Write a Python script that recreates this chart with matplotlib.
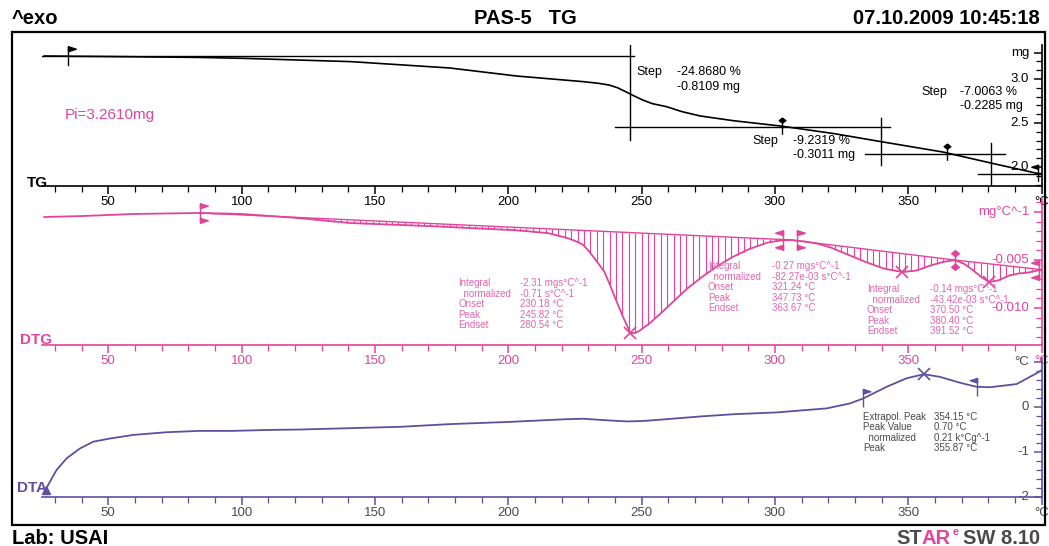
import numpy as np
import matplotlib.pyplot as plt
from matplotlib.path import Path
from matplotlib.patches import Rectangle

plt.rcParams['font.family'] = ['Liberation Sans', 'DejaVu Sans']

PINK = '#e2449c'
PINK_TXT = '#e266ad'
PURPLE = '#5d519f'
GREY = '#4a4a4a'

# ---- TG: mass vs temperature ----
tg_temp = [26, 50, 84, 100, 141, 178, 203, 228, 234, 238, 241, 244, 247, 250.5,
           254, 259.4, 265, 271.9, 284.4, 302, 322, 339.4, 363, 381.7, 398, 400]
tg_mass = [3.261, 3.255, 3.245, 3.235, 3.197, 3.125, 3.034, 2.97, 2.95, 2.93,
           2.90, 2.856, 2.81, 2.76, 2.72, 2.685, 2.63, 2.58, 2.526, 2.466, 2.38,
           2.29, 2.17, 2.04, 1.93, 1.922]
tg_initial = 3.2610
tg_step_pct = [-24.8680, -9.2319, -7.0063]
tg_step_mg = [-0.8109, -0.3011, -0.2285]
tg_step_temp = [245.8, 339.6, 381.2]

# ---- DTG: derivative of mass ----
dtg_temp = [26, 40, 60, 84.4, 100, 120, 141, 170, 203, 215, 222, 225, 228, 230,
            232, 236, 238, 240, 243, 245.8, 247.5, 249, 253, 257, 262, 267, 272,
            278, 284, 290, 297, 301, 305.6, 312, 316, 321, 327, 334, 341, 347.7,
            353, 358, 363, 367.5, 371, 374, 377.5, 380.4, 384, 388, 391.5, 395,
            400]
dtg_val = [-0.00052, -0.00042, -0.0002, -0.0001, -0.0002, -0.0006, -0.00115,
           -0.00146, -0.0019, -0.0022, -0.0027, -0.0030, -0.0034, -0.0040,
           -0.0047, -0.0062, -0.0075, -0.0089, -0.0109, -0.0126, -0.0126,
           -0.0124, -0.0116, -0.0106, -0.0093, -0.0080, -0.0069, -0.0057,
           -0.0047, -0.0039, -0.0032, -0.0030, -0.0029, -0.0031, -0.0033,
           -0.0037, -0.0044, -0.0052, -0.0059, -0.00625, -0.0061, -0.0056,
           -0.0052, -0.0050, -0.0054, -0.0060, -0.0068, -0.0073, -0.0071,
           -0.0066, -0.0064, -0.0063, -0.0060]
dtg_limits = [84.4, 305.6, 367.5, 400.0]
dtg_peaks = [245.82, 347.73, 380.40]
dtg_integral = ['-2.31 mgs°C^-1', '-0.27 mgs°C^-1', '-0.14 mgs°C^-1']
dtg_normalized = ['-0.71 s°C^-1', '-82.27e-03 s°C^-1', '-43.42e-03 s°C^-1']
dtg_onset = [230.18, 321.24, 370.50]
dtg_endset = [280.54, 363.67, 391.52]

# ---- DTA ----
dta_temp = [26.5, 27.1, 30.6, 34.4, 39.4, 44.4, 50.6, 59.4, 71.9, 84.4, 96.9,
            109.4, 121.9, 140.6, 159.4, 178.1, 200.6, 221.9, 228.1, 235.6, 244.4,
            250.6, 259.4, 271.9, 284.4, 300.6, 319.4, 328.1, 333.1, 341.9, 349.4,
            355.87, 361.9, 369.4, 375.6, 380.6, 390.6, 398.1, 400]
dta_val = [-1.85, -1.77, -1.40, -1.14, -0.92, -0.77, -0.70, -0.62, -0.56, -0.53,
           -0.53, -0.51, -0.50, -0.47, -0.44, -0.38, -0.33, -0.27, -0.26, -0.29,
           -0.32, -0.31, -0.27, -0.21, -0.16, -0.12, -0.03, 0.08, 0.19, 0.45,
           0.64, 0.73, 0.67, 0.54, 0.45, 0.44, 0.51, 0.75, 0.82]
dta_flags = [333.1, 375.6]
dta_labels = ['Extrapol. Peak', 'Peak Value', '  normalized', 'Peak']
dta_values = ['354.15 °C', '0.70 °C', '0.21 k°Cg^-1', '355.87 °C']

x_ticks = [50, 100, 150, 200, 250, 300, 350, 400]
x_labels = ['50', '100', '150', '200', '250', '300', '350', '°C']


def flag_marker(top, bottom):
    """staff with small pennants: 'r', 'l' or 'd' (diamond) at each end"""
    verts = [(0, -1), (0, 1)]
    codes = [Path.MOVETO, Path.LINETO]
    for kind, s in ((top, 1), (bottom, -1)):
        if kind is None:
            continue
        if kind == 'd':
            pts = [(0, s * 1.0), (0.4, s * 0.7), (0, s * 0.4), (-0.4, s * 0.7)]
        else:
            d = 0.8 if kind == 'r' else -0.8
            pts = [(0, s * 1.0), (d, s * 0.75), (0, s * 0.5)]
        verts += pts + [pts[0]]
        codes += [Path.MOVETO] + [Path.LINETO] * (len(pts) - 1) + [Path.CLOSEPOLY]
    return Path(verts, codes)


def style_axes(ax, color, label_color):
    ax.set_facecolor('none')
    ax.set_xlim(25, 400)
    for s in ('left', 'top'):
        ax.spines[s].set_visible(False)
    for s in ('right', 'bottom'):
        ax.spines[s].set_color(color)
        ax.spines[s].set_linewidth(1.2)
    ax.set_xticks(x_ticks, labels=x_labels)
    ax.set_xticks(np.arange(30, 400, 10), minor=True)
    ax.tick_params(axis='x', which='both', direction='out', color=color,
                   labelcolor=label_color, labelsize=9.5, pad=1)
    ax.tick_params(axis='x', which='major', length=6, width=1.1)
    ax.tick_params(axis='x', which='minor', length=4, width=0.9)
    ax.tick_params(axis='y', which='both', direction='in', left=False,
                   right=True, labelleft=False, labelright=True, color=color,
                   labelcolor=label_color, labelsize=9.5, pad=-9)
    ax.tick_params(axis='y', which='major', length=6, width=1.1)
    ax.tick_params(axis='y', which='minor', length=4, width=0.9)
    plt.setp(ax.get_yticklabels(), ha='right', va='center')


fig = plt.figure(figsize=(10.49, 5.46), dpi=100)
W, H = 1049.0, 546.0

ax_tg = fig.add_axes([41.6 / W, 1 - 186 / H, 1000 / W, 141 / H])
ax_dtg = fig.add_axes([41.6 / W, 1 - 345 / H, 1000 / W, 147 / H])
ax_dta = fig.add_axes([41.6 / W, 1 - 497 / H, 1000 / W, 139 / H])

# ---- TG panel ----
ax_tg.set_ylim(1.784, 3.386)
ax_tg.set_yticks([2.0, 2.5, 3.0, 3.3], labels=['2.0', '2.5', '3.0', 'mg'])
ax_tg.set_yticks(np.arange(1.8, 3.35, 0.1), minor=True)
style_axes(ax_tg, 'black', 'black')
ax_tg.plot(tg_temp, tg_mass, color='black', lw=1.2)

levels = [tg_initial]
for d in tg_step_mg:
    levels.append(levels[-1] + d)
h_spans = [(25, 247), (240, 343), (333.8, 386.3), (376, 400)]
for lvl, (a, b) in zip(levels, h_spans):
    ax_tg.plot([a, b], [lvl, lvl], color='black', lw=1)
v_spans = [(2.307, 3.386), (2.023, 2.557), (1.80, 2.27)]
for t, (a, b) in zip(tg_step_temp, v_spans):
    ax_tg.plot([t, t], [a, b], color='black', lw=1)

ax_tg.plot([35], [tg_initial], ls='none', marker=flag_marker('r', None),
           ms=14, color='black', mew=1)
ax_tg.plot([302.5, 364.5], [2.466, 2.165], ls='none',
           marker=flag_marker('d', None), ms=12, color='black', mew=1)
ax_tg.plot([398.5], [1.93], ls='none', marker=flag_marker('l', None),
           ms=12, color='black', mew=1)

step_text_pos = [(248.2, 3.08, 263.2, 2.909), (291.7, 2.295, 306.7, 2.136),
                 (355.1, 2.852, 369.4, 2.693)]
for (sx, sy, vx, vy), pct, mg in zip(step_text_pos, tg_step_pct, tg_step_mg):
    ax_tg.text(sx, sy, 'Step', fontsize=9, va='center')
    ax_tg.text(vx, sy, f'{pct:.4f} %', fontsize=9, va='center')
    ax_tg.text(vx, vy, f'{mg:.4f} mg', fontsize=9, va='center')
ax_tg.text(33.8, 2.59, f'Pi={tg_initial:.4f}mg', color=PINK, fontsize=11,
           va='center')

# ---- DTG panel ----
ax_dtg.set_ylim(-0.01385, 0.00146)
ax_dtg.set_yticks([0.0, -0.005, -0.010], labels=['mg°C^-1', '-0.005', '-0.010'])
ax_dtg.set_yticks(np.arange(-0.013, 0.0011, 0.001), minor=True)
style_axes(ax_dtg, PINK, PINK)
ax_dtg.plot(dtg_temp, dtg_val, color=PINK, lw=1.3)

for a, b in zip(dtg_limits[:-1], dtg_limits[1:]):
    ya, yb = np.interp([a, b], dtg_temp, dtg_val)
    ax_dtg.plot([a, b], [ya, yb], color=PINK, lw=1)
    ts = np.arange(a, b, 2.4)
    curve = np.interp(ts, dtg_temp, dtg_val)
    base = np.interp(ts, [a, b], [ya, yb])
    ax_dtg.vlines(ts, curve, base, color=PINK, lw=0.8)

ax_dtg.plot(dtg_peaks, np.interp(dtg_peaks, dtg_temp, dtg_val), ls='none',
            marker='x', ms=8, mew=1.2, color=PINK)
lim_v = np.interp(dtg_limits, dtg_temp, dtg_val)
ax_dtg.plot([dtg_limits[0]], [lim_v[0]], ls='none', marker=flag_marker('r', 'r'),
            ms=14, color=PINK, mew=1)
ax_dtg.plot([dtg_limits[1] - 2.5], [lim_v[1]], ls='none',
            marker=flag_marker('l', 'l'), ms=14, color=PINK, mew=1)
ax_dtg.plot([dtg_limits[1] + 2.5], [lim_v[1]], ls='none',
            marker=flag_marker('r', 'r'), ms=14, color=PINK, mew=1)
ax_dtg.plot([dtg_limits[2]], [lim_v[2]], ls='none', marker=flag_marker('d', 'd'),
            ms=14, color=PINK, mew=1)
ax_dtg.plot([dtg_limits[3] - 0.8], [lim_v[3]], ls='none',
            marker=flag_marker('l', 'l'), ms=14, color=PINK, mew=1)

block_pos = [(181.2, 204.4, -0.0074), (274.9, 298.9, -0.00563),
             (334.5, 358.1, -0.00802)]
row_step = 0.001094
for i, (lx, vx, y0) in enumerate(block_pos):
    labels = ['Integral', '  normalized', 'Onset', 'Peak', 'Endset']
    values = [dtg_integral[i], dtg_normalized[i], f'{dtg_onset[i]:.2f} °C',
              f'{dtg_peaks[i]:.2f} °C', f'{dtg_endset[i]:.2f} °C']
    for r, (lab, val) in enumerate(zip(labels, values)):
        y = y0 - r * row_step
        ax_dtg.text(lx, y, lab, color=PINK_TXT, fontsize=7, va='center')
        ax_dtg.text(vx, y, val, color=PINK_TXT, fontsize=7, va='center')

# ---- DTA panel ----
ax_dta.set_ylim(-2.0, 1.09)
ax_dta.set_yticks([-2, -1, 0, 1], labels=['-2', '-1', '0', '°C'])
ax_dta.set_yticks(np.arange(-2, 1.01, 0.2), minor=True)
style_axes(ax_dta, PURPLE, GREY)
ax_dta.plot(dta_temp, dta_val, color=PURPLE, lw=1.3)
ax_dta.plot([dta_temp[0]], [dta_val[0]], ls='none', marker='^', ms=6,
            color=PURPLE)
ax_dta.plot([dta_flags[0]], np.interp([dta_flags[0]], dta_temp, dta_val),
            ls='none', marker=flag_marker('r', None), ms=13, color=PURPLE, mew=1)
ax_dta.plot([dta_flags[1]], np.interp([dta_flags[1]], dta_temp, dta_val),
            ls='none', marker=flag_marker('l', None), ms=13, color=PURPLE, mew=1)
ax_dta.plot([355.87], np.interp([355.87], dta_temp, dta_val), ls='none',
            marker='x', ms=8, mew=1.2, color=PURPLE)
for r, (lab, val) in enumerate(zip(dta_labels, dta_values)):
    y = -0.222 - r * 0.233
    ax_dta.text(333.0, y, lab, color=GREY, fontsize=7, va='center')
    ax_dta.text(359.6, y, val, color=GREY, fontsize=7, va='center')

# ---- frame and headers ----
fig.add_artist(Rectangle((12 / W, 1 - 525 / H), 1033 / W, 493 / H,
                         transform=fig.transFigure, fill=False,
                         edgecolor='black', lw=1.6))
fig.text(27 / W, 1 - 183 / H, 'TG', fontsize=11, weight='bold', va='center')
fig.text(20 / W, 1 - 340 / H, 'DTG', fontsize=11, weight='bold', va='center',
         color=PINK)
fig.text(17 / W, 1 - 488 / H, 'DTA', fontsize=11, weight='bold', va='center',
         color=PURPLE)

hdr = dict(fontsize=14.5, weight='bold', va='center')
fig.text(12 / W, 1 - 18 / H, '^exo', **hdr)
fig.text(525 / W, 1 - 18 / H, 'PAS-5   TG', ha='center', **hdr)
fig.text(1040 / W, 1 - 18 / H, '07.10.2009 10:45:18', ha='right', **hdr)
fig.text(12 / W, 1 - 538 / H, 'Lab: USAI', **hdr)

# software logo, built right to left from the version string
sw = fig.text(1040 / W, 1 - 538 / H, 'SW 8.10', ha='right', color=GREY, **hdr)
ax_dta.annotate('e', xy=(0, 0.55), xycoords=sw, xytext=(-3, 0),
                textcoords='offset points', ha='right', va='bottom',
                fontsize=8, weight='bold', color=PINK, annotation_clip=False)
ar = ax_dta.annotate('AR', xy=(0, 0), xycoords=sw, xytext=(-8.5, 0),
                     textcoords='offset points', ha='right', va='bottom',
                     fontsize=14.5, weight='bold', color=PINK,
                     annotation_clip=False)
ax_dta.annotate('ST', xy=(0, 0), xycoords=ar, ha='right', va='bottom',
                fontsize=14.5, weight='bold', color=GREY, annotation_clip=False)

fig.savefig('out.png', dpi=100)
